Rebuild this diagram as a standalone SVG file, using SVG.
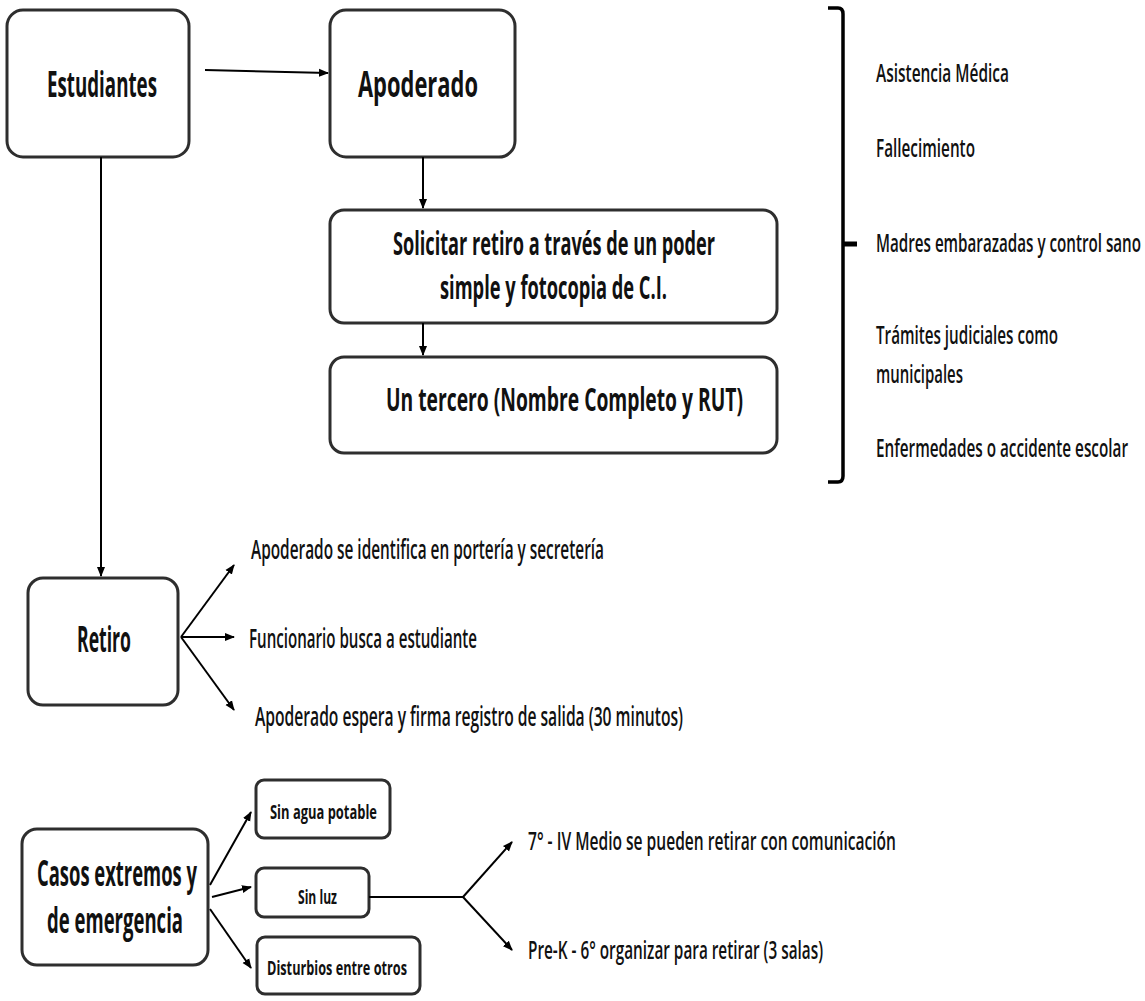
<svg xmlns="http://www.w3.org/2000/svg" width="1145" height="1001" viewBox="0 0 1145 1001">
<defs>
<marker id="ah" viewBox="0 0 10 10" refX="9" refY="5" markerWidth="5" markerHeight="5" orient="auto" markerUnits="strokeWidth">
<path d="M0,1 L10,5 L0,9 z" fill="#000"/>
</marker>
<style>
.box{fill:#fff;stroke:#2e2e2e;stroke-width:3}
.t{font-family:"Open Sans","Liberation Sans",sans-serif;fill:#111;font-weight:600}
.b{font-weight:bold}
.c{stroke:#000;fill:none;stroke-width:2}
</style>
</defs>
<rect width="1145" height="1001" fill="#fff"/>

<g id="n-estudiantes">
<rect class="box" x="7" y="10" width="182" height="147" rx="16"/>
<text class="t b" x="47" y="97" font-size="36" textLength="110" lengthAdjust="spacingAndGlyphs">Estudiantes</text>
</g>
<g id="n-apoderado">
<rect class="box" x="330" y="10" width="185" height="147" rx="16"/>
<text class="t b" x="358" y="97" font-size="36" textLength="120" lengthAdjust="spacingAndGlyphs">Apoderado</text>
</g>
<g id="n-solicitar">
<rect class="box" x="330" y="210" width="447" height="113" rx="14"/>
<text class="t b" x="393" y="255" font-size="32" textLength="322" lengthAdjust="spacingAndGlyphs">Solicitar retiro a través de un poder</text>
<text class="t b" x="440" y="299" font-size="32" textLength="227" lengthAdjust="spacingAndGlyphs">simple y fotocopia de C.I.</text>
</g>
<g id="n-tercero">
<rect class="box" x="330" y="357" width="447" height="96" rx="14"/>
<text class="t b" x="386" y="411" font-size="32" textLength="357" lengthAdjust="spacingAndGlyphs">Un tercero (Nombre Completo y RUT)</text>
</g>
<g id="n-motivos">
<path d="M828,8 L838,8 Q843,8 843,14 L843,476 Q843,482 838,482 L828,482" fill="none" stroke="#000" stroke-width="3.5"/>
<path d="M843,244 L857,244" stroke="#000" stroke-width="5"/>
<text class="t" x="876" y="82" font-size="26" textLength="133" lengthAdjust="spacingAndGlyphs">Asistencia Médica</text>
<text class="t" x="876" y="157" font-size="26" textLength="99" lengthAdjust="spacingAndGlyphs">Fallecimiento</text>
<text class="t" x="876" y="252" font-size="26" textLength="265" lengthAdjust="spacingAndGlyphs">Madres embarazadas y control sano</text>
<text class="t" x="876" y="344" font-size="26" textLength="182" lengthAdjust="spacingAndGlyphs">Trámites judiciales como</text>
<text class="t" x="876" y="383" font-size="26" textLength="87" lengthAdjust="spacingAndGlyphs">municipales</text>
<text class="t" x="876" y="457" font-size="26" textLength="252" lengthAdjust="spacingAndGlyphs">Enfermedades o accidente escolar</text>
</g>
<g id="n-retiro">
<rect class="box" x="28" y="578" width="150" height="127" rx="15"/>
<text class="t b" x="77" y="652" font-size="36" textLength="54" lengthAdjust="spacingAndGlyphs">Retiro</text>
</g>
<g id="n-pasos">
<text class="t" x="251" y="559" font-size="27" textLength="353" lengthAdjust="spacingAndGlyphs">Apoderado se identifica en portería y secretería</text>
<text class="t" x="249" y="648" font-size="27" textLength="228" lengthAdjust="spacingAndGlyphs">Funcionario busca a estudiante</text>
<text class="t" x="255" y="726" font-size="27" textLength="428" lengthAdjust="spacingAndGlyphs">Apoderado espera y firma registro de salida (30 minutos)</text>
</g>
<g id="n-casos">
<rect class="box" x="22" y="829" width="186" height="136" rx="15"/>
<text class="t b" x="37" y="886" font-size="35" textLength="160" lengthAdjust="spacingAndGlyphs">Casos extremos y</text>
<text class="t b" x="47" y="933" font-size="35" textLength="136" lengthAdjust="spacingAndGlyphs">de emergencia</text>
</g>
<g id="n-agua">
<rect class="box" x="256" y="780" width="134" height="58" rx="8"/>
<text class="t b" x="270" y="819" font-size="19" textLength="107" lengthAdjust="spacingAndGlyphs">Sin agua potable</text>
</g>
<g id="n-luz">
<rect class="box" x="256" y="868" width="113" height="49" rx="8"/>
<text class="t b" x="298" y="904" font-size="19" textLength="39" lengthAdjust="spacingAndGlyphs">Sin luz</text>
</g>
<g id="n-disturbios">
<rect class="box" x="257" y="937" width="163" height="57" rx="8"/>
<text class="t b" x="267" y="975" font-size="19" textLength="140" lengthAdjust="spacingAndGlyphs">Disturbios entre otros</text>
</g>
<g id="n-niveles">
<text class="t" x="528" y="850" font-size="26" textLength="368" lengthAdjust="spacingAndGlyphs">7° - IV Medio se pueden retirar con comunicación</text>
<text class="t" x="528" y="959" font-size="26" textLength="295" lengthAdjust="spacingAndGlyphs">Pre-K - 6° organizar para retirar (3 salas)</text>
</g>

<g id="connectors">
<path class="c" d="M205,70 L328,73" stroke-width="3.5" marker-end="url(#ah)"/>
<path class="c" d="M423,157 L423,208" marker-end="url(#ah)"/>
<path class="c" d="M423,323 L423,355" marker-end="url(#ah)"/>
<path class="c" d="M101,157 L101,576" marker-end="url(#ah)"/>
<path class="c" d="M181,637 L234,565" stroke-width="2.5" marker-end="url(#ah)"/>
<path class="c" d="M181,637 L234,637" stroke-width="3.5" marker-end="url(#ah)"/>
<path class="c" d="M181,637 L234,710" stroke-width="2.5" marker-end="url(#ah)"/>
<path class="c" d="M210,885 L251,812" stroke-width="2.5" marker-end="url(#ah)"/>
<path class="c" d="M212,897 L251,887" stroke-width="3.5" marker-end="url(#ah)"/>
<path class="c" d="M210,909 L251,968" stroke-width="2.5" marker-end="url(#ah)"/>
<path class="c" d="M369,897 L463,897" stroke-width="4"/>
<path class="c" d="M463,897 L512,842" stroke-width="2.5" marker-end="url(#ah)"/>
<path class="c" d="M463,897 L512,950" stroke-width="2.5" marker-end="url(#ah)"/>
</g>
</svg>
